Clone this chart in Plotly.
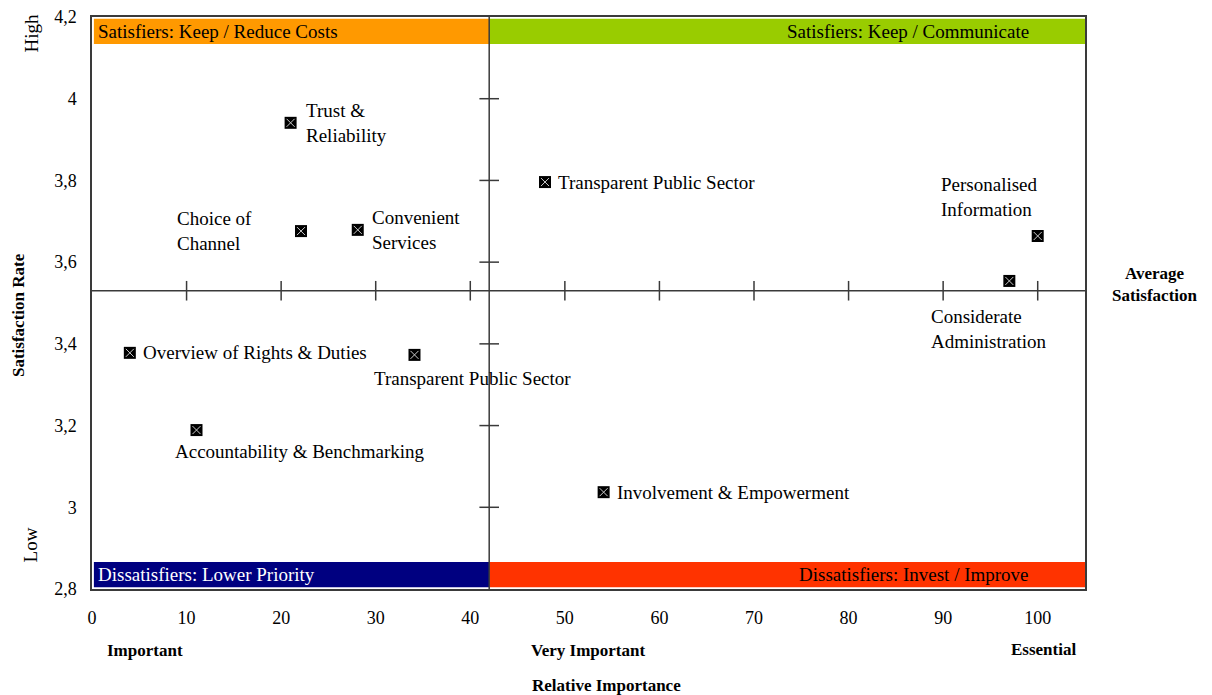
import plotly.graph_objects as go

# ---- data ----
labels = ["Trust &<br>Reliability", "Choice of<br>Channel", "Convenient<br>Services",
          "Transparent Public Sector", "Personalised<br>Information", "Considerate<br>Administration",
          "Overview of Rights & Duties", "Transparent Public Sector", "Accountability & Benchmarking",
          "Involvement & Empowerment"]
importance = [21.0, 22.1, 28.1, 47.9, 100.0, 97.0, 4.0, 34.1, 11.05, 54.1]
satisfaction = [3.941, 3.676, 3.679, 3.796, 3.664, 3.554, 3.378, 3.373, 3.189, 3.037]

x_ticks = [0, 10, 20, 30, 40, 50, 60, 70, 80, 90, 100]
y_ticks = [2.8, 3.0, 3.2, 3.4, 3.6, 3.8, 4.0, 4.2]
y_ticktext = ["2,8", "3", "3,2", "3,4", "3,6", "3,8", "4", "4,2"]
cross_x_ticks = [10, 20, 30, 40, 50, 60, 70, 80, 90, 100]
cross_y_ticks = [3.0, 3.2, 3.4, 3.6, 3.8, 4.0]

avg_importance = 42
avg_satisfaction = 3.53
x_range = [0, 105]
y_range = [2.8, 4.2]

quadrants = [
    # text, x0, x1, at_top, fill, font color, align
    ("Satisfiers: Keep / Reduce Costs", 0, avg_importance, True, "#FF9900", "black", "left"),
    ("Satisfiers: Keep / Communicate", avg_importance, 105, True, "#99CC00", "black", "right"),
    ("Dissatisfiers: Lower Priority", 0, avg_importance, False, "#000080", "white", "left"),
    ("Dissatisfiers: Invest / Improve", avg_importance, 105, False, "#FF3300", "black", "right"),
]

# label placement styles (xanchor, yanchor, xshift, yshift)
label_style = [
    ("left", "middle", 13, 0),
    ("right", "middle", -47, 0),
    ("left", "middle", 12, 0),
    ("left", "middle", 11, 0),
    ("center", "bottom", -48, 14),
    ("center", "top", -20, -23),
    ("left", "middle", 11, 0),
    ("center", "top", 58, -11),
    ("center", "top", 103, -9),
    ("left", "middle", 11, 0),
]

FONT = "Liberation Serif, Times New Roman, serif"
AXC = "#3a3a3a"

fig = go.Figure()

# quadrant bands
band_h = 0.066
for text, x0, x1, top, fill, fc, align in quadrants:
    y0, y1 = (y_range[1] - band_h, y_range[1] - 0.004) if top else (y_range[0] + 0.004, y_range[0] + band_h)
    fig.add_shape(type="rect", xref="x", yref="y", x0=x0 + (0.2 if x0 == 0 else 0), x1=x1, y0=y0, y1=y1,
                  fillcolor=fill, line=dict(width=0), layer="below")
    fig.add_annotation(x=x0 if align == "left" else x1, y=(y0 + y1) / 2, xref="x", yref="y",
                       text=text, showarrow=False, xanchor=align, yanchor="middle",
                       xshift=4 if align == "left" else -54,
                       font=dict(family=FONT, size=19, color=fc))

# dividing lines
fig.add_shape(type="line", xref="x", yref="y", x0=avg_importance, x1=avg_importance,
              y0=y_range[0], y1=y_range[1], line=dict(color=AXC, width=1.5))
fig.add_shape(type="line", xref="x", yref="y", x0=x_range[0], x1=x_range[1],
              y0=avg_satisfaction, y1=avg_satisfaction, line=dict(color=AXC, width=1.5))

# crossing tick marks on dividers
fig.add_trace(go.Scatter(x=cross_x_ticks, y=[avg_satisfaction] * len(cross_x_ticks), mode="markers",
                         marker=dict(symbol="line-ns", size=14, line=dict(color=AXC, width=1.5)),
                         hoverinfo="skip", showlegend=False))
fig.add_trace(go.Scatter(x=[avg_importance] * len(cross_y_ticks), y=cross_y_ticks, mode="markers",
                         marker=dict(symbol="line-ew", size=14, line=dict(color=AXC, width=1.5)),
                         hoverinfo="skip", showlegend=False))

# data markers
fig.add_trace(go.Scatter(x=importance, y=satisfaction, mode="markers",
                         marker=dict(symbol="square", size=12, color="black", line=dict(width=0)),
                         showlegend=False))
fig.add_trace(go.Scatter(x=importance, y=satisfaction, mode="markers",
                         marker=dict(symbol="x-thin", size=8, line=dict(color="#cccccc", width=1)),
                         hoverinfo="skip", showlegend=False))

for lab, xv, yv, (xa, ya, xs, ys) in zip(labels, importance, satisfaction, label_style):
    fig.add_annotation(x=xv, y=yv, xref="x", yref="y", text=lab, showarrow=False,
                       xanchor=xa, yanchor=ya, xshift=xs, yshift=ys, align="left",
                       font=dict(family=FONT, size=19, color="black"))

# outer texts
bold = dict(family=FONT, size=17, color="black")
reg = dict(family=FONT, size=19, color="black")
outer = [
    ("<b>Satisfaction Rate</b>", -0.0745, 0.479, -90, bold),
    ("High", -0.061, 0.972, -90, reg),
    ("Low", -0.061, 0.077, -90, reg),
    ("<b>Important</b>", 0.0534, -0.108, 0, bold),
    ("<b>Very Important</b>", 0.4995, -0.108, 0, bold),
    ("<b>Essential</b>", 0.9587, -0.105, 0, bold),
    ("<b>Relative Importance</b>", 0.5186, -0.168, 0, bold),
    ("<b>Average<br>Satisfaction</b>", 1.0705, 0.533, 0, bold),
]
for text, px, py, ang, f in outer:
    fig.add_annotation(x=px, y=py, xref="paper", yref="paper", text=text, showarrow=False,
                       xanchor="center", yanchor="middle", textangle=ang, font=f)

# page body adds an 8px offset, so figure is sized/margined to compensate
fig.update_layout(
    width=1204, height=687,
    margin=dict(l=84, r=127, t=9, b=106),
    paper_bgcolor="white", plot_bgcolor="white",
    showlegend=False,
    font=dict(family=FONT, size=18, color="black"),
    xaxis=dict(range=x_range, tickvals=x_ticks, showgrid=False, zeroline=False,
               showline=True, mirror=True, linecolor=AXC, linewidth=1.5, ticks="",
               automargin=False, ticklabelstandoff=12, ticklabeloverflow="allow",
               tickfont=dict(family=FONT, size=18, color="black")),
    yaxis=dict(range=y_range, tickvals=y_ticks, ticktext=y_ticktext, showgrid=False, zeroline=False,
               showline=True, mirror=True, linecolor=AXC, linewidth=1.5, ticks="",
               automargin=False, ticklabelstandoff=10, ticklabeloverflow="allow",
               tickfont=dict(family=FONT, size=18, color="black")),
)

fig.write_html("out.html")
